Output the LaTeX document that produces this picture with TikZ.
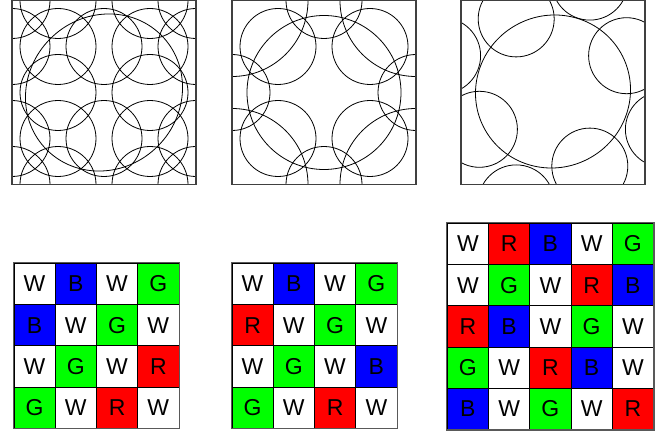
\documentclass[tikz,border=0pt]{standalone}
\usepackage{fontspec}
\setmainfont{Liberation Sans}
\usetikzlibrary{positioning,calc}
\definecolor{pixW}{RGB}{255,255,255}
\definecolor{pixR}{RGB}{255,0,0}
\definecolor{pixG}{RGB}{0,255,0}
\definecolor{pixB}{RGB}{0,0,255}

\begin{document}
\begin{tikzpicture}[x=1pt,y=-1pt,
      lens/.style={draw=black, line width=0.8pt},
      panel/.style={draw=black!75, line width=1.1pt},
      frame/.style={draw=black!65, line width=1.2pt},
      pix/.style={draw=black, line width=0.9pt, minimum size=41.25pt,
         inner sep=0pt, font=\fontsize{23}{23}\selectfont}]
   \useasboundingbox (0,0) rectangle (656,433);

   % top row: lens layouts
   \coordinate (p1) at (12,0.5);
   \coordinate (p2) at (232,0.5);
   \coordinate (p3) at (461,0.5);
   \coordinate (c1) at (104,92.5);
   \coordinate (c2) at (324,92.5);
   \coordinate (c3) at (553,91.5);

   \begin{scope}
      \clip (p1) rectangle ++(184,184);
      \foreach \i/\j in {1/0,3/0,0/1,2/1,4/1,1/2,3/2,0/3,2/3,4/3,1/4,3/4,
            0/0,4/0,0/4,4/4,1/1,3/1,1/3,3/3}
         \draw[lens] ($(p1)+(46*\i,46*\j)$) circle (38pt);
      \draw[lens, rotate around={45:(c1)}] (c1) ellipse (81pt and 76pt);
   \end{scope}
   \draw[panel] (p1) rectangle ++(184,184);

   \begin{scope}
      \clip (p2) rectangle ++(184,184);
      \foreach \i/\j in {1/1,3/1,1/3,3/3,2/0,0/2,4/2,2/4}
         \draw[lens] ($(p2)+(46*\i,46*\j)$) circle (38pt);
      \foreach \i/\j in {0/0,4/0,0/4,4/4}
         \draw[lens] ($(p2)+(46*\i,46*\j)$) circle (76pt);
      \draw[lens] (c2) circle (77pt);
   \end{scope}
   \draw[panel] (p2) rectangle ++(184,184);

   \begin{scope}
      \clip (p3) rectangle ++(184,184);
      \foreach \m/\n in {1/0,-1/0,0/1,0/-1,1/1,-1/-1,1/-1,-1/1}
         \draw[lens] ($(p3)+(92+73.6*\m+36.8*\n,92-36.8*\m+73.6*\n)$)
            circle (38pt);
      \draw[lens, rotate around={30:(c3)}] (c3) ellipse (78pt and 76pt);
   \end{scope}
   \draw[panel] (p3) rectangle ++(184,184);

   % bottom row: colour filter patterns
   \foreach \row [count=\r from 0] in {{W,B,W,G},{B,W,G,W},{W,G,W,R},{G,W,R,W}}
      \foreach \ch [count=\c from 0] in \row
         \node[pix, fill=pix\ch] (ga-\r-\c)
            at (34.6+41.25*\c, 283.9+41.25*\r) {\ch};
   \draw[frame] (ga-0-0.north west) rectangle (ga-3-3.south east);

   \foreach \row [count=\r from 0] in {{W,B,W,G},{R,W,G,W},{W,G,W,B},{G,W,R,W}}
      \foreach \ch [count=\c from 0] in \row
         \node[pix, fill=pix\ch] (gb-\r-\c)
            at (252.6+41.25*\c, 283.9+41.25*\r) {\ch};
   \draw[frame] (gb-0-0.north west) rectangle (gb-3-3.south east);

   \foreach \row [count=\r from 0] in {{W,R,B,W,G},{W,G,W,R,B},{R,B,W,G,W},
         {G,W,R,B,W},{B,W,G,W,R}}
      \foreach \ch [count=\c from 0] in \row
         \node[pix, fill=pix\ch] (gc-\r-\c)
            at (467.9+41.25*\c, 243.9+41.25*\r) {\ch};
   \draw[frame] (gc-0-0.north west) rectangle (gc-4-4.south east);
\end{tikzpicture}
\end{document}
